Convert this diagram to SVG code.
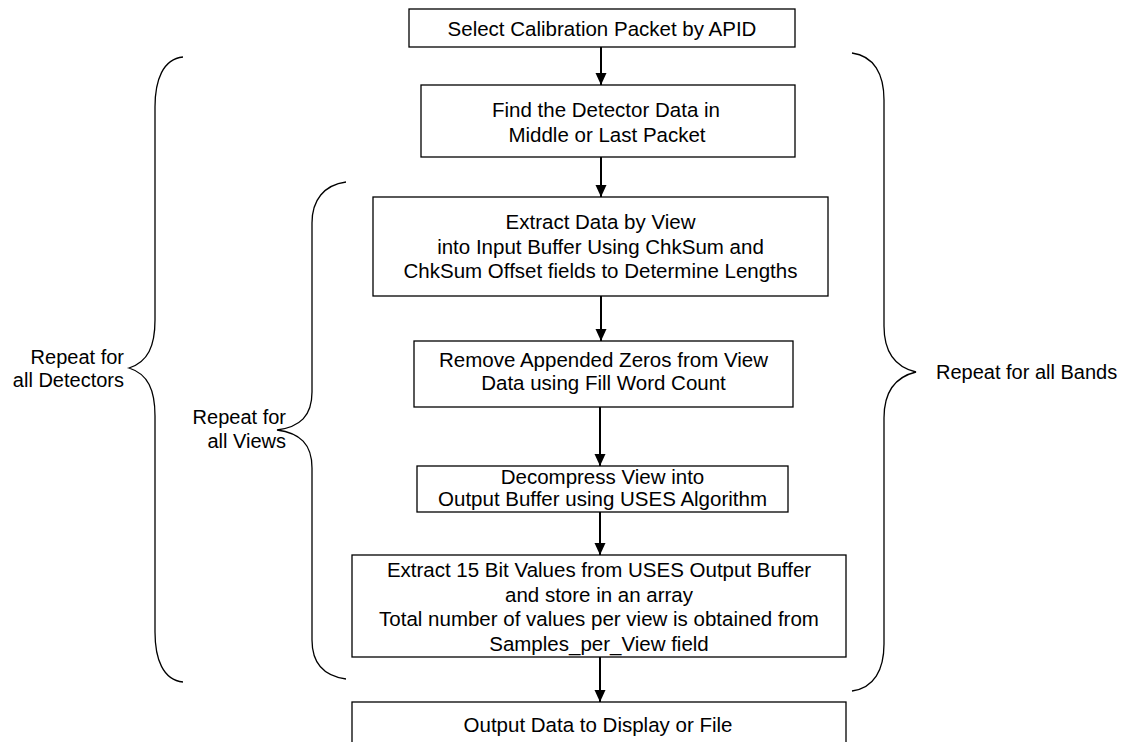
<svg xmlns="http://www.w3.org/2000/svg" width="1127" height="742" viewBox="0 0 1127 742">
<defs>
<style>
.box{fill:#fff;stroke:#000;stroke-width:1.3}
.t{font-family:"Liberation Sans",Arial,sans-serif;font-size:20.5px;fill:#000;text-anchor:middle}
.lbl{font-family:"Liberation Sans",Arial,sans-serif;font-size:20px;fill:#000}
.brace{fill:none;stroke:#000;stroke-width:1.3}
.conn{stroke:#000;stroke-width:2;fill:none}
</style>
<marker id="ah" viewBox="0 0 12 12" refX="12" refY="6" markerWidth="12" markerHeight="12" markerUnits="userSpaceOnUse" orient="auto">
<path d="M0,0.5 L12,6 L0,11.5 Z" fill="#000"/>
</marker>
</defs>
<rect width="1127" height="742" fill="#fff"/>

<g id="connectors">
<line class="conn" x1="601" y1="47" x2="601" y2="85" marker-end="url(#ah)"/>
<line class="conn" x1="601" y1="157" x2="601" y2="197" marker-end="url(#ah)"/>
<line class="conn" x1="601" y1="296" x2="601" y2="341" marker-end="url(#ah)"/>
<line class="conn" x1="600" y1="407" x2="600" y2="466" marker-end="url(#ah)"/>
<line class="conn" x1="600" y1="512" x2="600" y2="555" marker-end="url(#ah)"/>
<line class="conn" x1="600" y1="657" x2="600" y2="702" marker-end="url(#ah)"/>
</g>

<g id="n1">
<rect class="box" x="409" y="9" width="386" height="38"/>
<text class="t" x="602" y="36">Select Calibration Packet by APID</text>
</g>
<g id="n2">
<rect class="box" x="421" y="85" width="374" height="72"/>
<text class="t" x="606" y="117">Find the Detector Data in</text>
<text class="t" x="607" y="142">Middle or Last Packet</text>
</g>
<g id="n3">
<rect class="box" x="373" y="197" width="455" height="99"/>
<text class="t" x="600.5" y="229">Extract Data by View</text>
<text class="t" x="600.5" y="254">into Input Buffer Using ChkSum and</text>
<text class="t" x="600.5" y="278">ChkSum Offset fields to Determine Lengths</text>
</g>
<g id="n4">
<rect class="box" x="414" y="341" width="379" height="66"/>
<text class="t" x="603.5" y="367">Remove Appended Zeros from View</text>
<text class="t" x="603.5" y="390">Data using Fill Word Count</text>
</g>
<g id="n5">
<rect class="box" x="417" y="466" width="371" height="46"/>
<text class="t" x="602.5" y="484">Decompress View into</text>
<text class="t" x="602.5" y="506">Output Buffer using USES Algorithm</text>
</g>
<g id="n6">
<rect class="box" x="352" y="555" width="494" height="102"/>
<text class="t" x="599" y="577">Extract 15 Bit Values from USES Output Buffer</text>
<text class="t" x="599" y="602">and store in an array</text>
<text class="t" x="599" y="626">Total number of values per view is obtained from</text>
<text class="t" x="599" y="651">Samples_per_View field</text>
</g>
<g id="n7">
<rect class="box" x="352" y="702" width="494" height="60"/>
<text class="t" x="598" y="732">Output Data to Display or File</text>
</g>

<g id="brace-detectors">
<path class="brace" d="M183,57 C163,59 155,80 155,107 L155,320 C155,346 148,362 129,368 C148,374 155,390 155,416 L155,632 C155,659 163,680 183,682"/>
<text class="lbl" x="124" y="364" text-anchor="end">Repeat for</text>
<text class="lbl" x="124" y="387" text-anchor="end">all Detectors</text>
</g>
<g id="brace-views">
<path class="brace" d="M346,182 C324,185 312,200 312,223 L312,392 C312,416 300,427 277,430 C300,433 312,444 312,468 L312,640 C312,663 324,676 346,679"/>
<text class="lbl" x="286" y="424" text-anchor="end">Repeat for</text>
<text class="lbl" x="286" y="448" text-anchor="end">all Views</text>
</g>
<g id="brace-bands">
<path class="brace" d="M852,53 C874,56 884,74 884,100 L884,326 C884,352 895,367 916,372 C895,377 884,392 884,418 L884,644 C884,670 874,688 852,691"/>
<text class="lbl" x="936" y="379">Repeat for all Bands</text>
</g>
</svg>
